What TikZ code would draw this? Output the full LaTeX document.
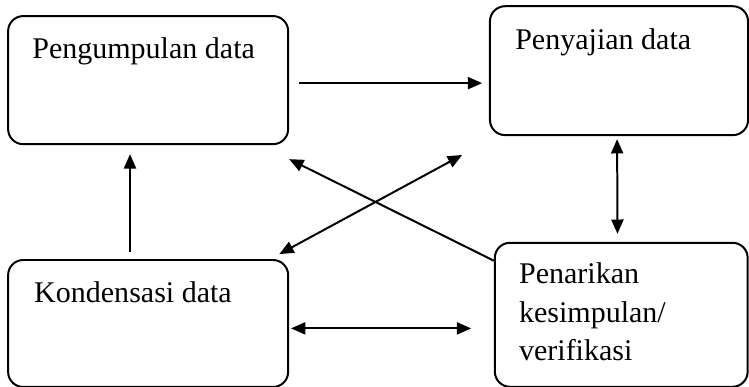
\documentclass[tikz,border=0pt]{standalone}
\usepackage{fontspec}
\setmainfont{Liberation Serif}
\usetikzlibrary{positioning}
\usetikzlibrary{arrows.meta}

\tikzset{
  box/.style={draw, rectangle, rounded corners=0.4cm, line width=1.5pt, fill=white},
  txt/.style={anchor=base west, inner sep=0pt, align=left, font=\fontsize{22.6}{29}\selectfont},
  arr/.style={line width=1.5pt, -{Triangle[length=0.38cm,width=0.32cm]}},
  dblarr/.style={line width=1.5pt, {Triangle[length=0.38cm,width=0.32cm]}-{Triangle[length=0.38cm,width=0.32cm]}}
}

\begin{document}
\begin{tikzpicture}
            \useasboundingbox (0,0) rectangle (19.82,-10.24);
            % Boxes
            \node[box, minimum width=7.41cm, minimum height=3.39cm] (kumpul) at (3.92,-2.12) {};
            \node[box, minimum width=6.83cm, minimum height=3.41cm] (saji) at (16.38,-1.87) {};
            \node[box, minimum width=7.41cm, minimum height=3.36cm] (kondensasi) at (3.92,-8.56) {};
            \node[box, minimum width=6.69cm, minimum height=3.81cm] (tarik) at (16.44,-8.33) {};

            % Texts
            \node[txt] (tkumpul) at ([shift={(0.66,-1.16)}]kumpul.north west) {Pengumpulan data};
            \node[txt] (tsaji) at ([shift={(0.69,-1.16)}]saji.north west) {Penyajian data};
            \node[txt] (tkondensasi) at ([shift={(0.71,-1.14)}]kondensasi.north west) {Kondensasi data};
            % base of a multi-line node is its last line
            \node[txt] (ttarik) at ([shift={(0.66,-3.15)}]tarik.north west) {Penarikan\\kesimpulan/\\verifikasi};

            % Arrows
            \draw[arr] ([shift={(0.26,-0.08)}]kumpul.east) -- ([shift={(-0.18,-0.33)}]saji.west);
            \draw[arr] ([shift={(-0.48,0.18)}]kondensasi.north) -- ([shift={(-0.48,-0.24)}]kumpul.south);
            \draw[dblarr] ([shift={(-0.05,-0.08)}]saji.south) -- ([shift={(-0.1,0.21)}]tarik.north);
            \draw[arr] ([yshift=-0.5cm]tarik.north west) -- ([yshift=-0.37cm]kumpul.south east);
            \draw[dblarr] ([shift={(-0.26,0.13)}]kondensasi.north east) -- ([shift={(-0.71,-0.5)}]saji.south west);
            \draw[dblarr] ([shift={(0.05,-0.13)}]kondensasi.east) -- ([shift={(-0.6,-0.36)}]tarik.west);
        \end{tikzpicture}
\end{document}
